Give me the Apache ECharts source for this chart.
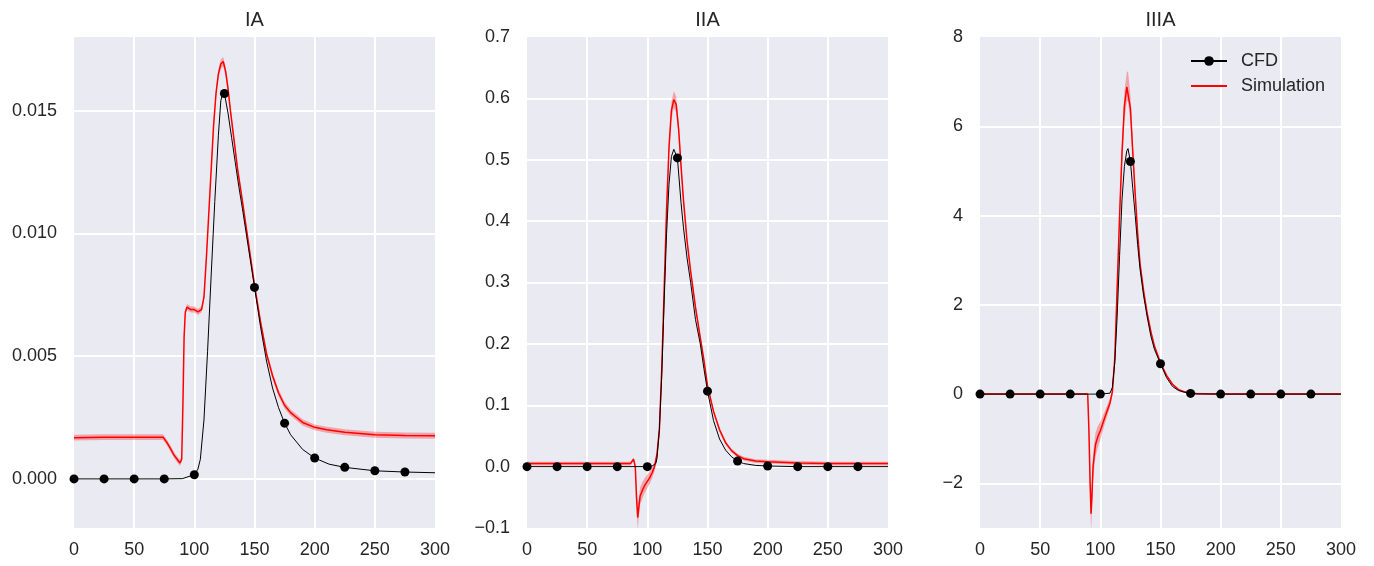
<!DOCTYPE html>
<html>
<head>
<meta charset="utf-8">
<script src="https://cdn.jsdelivr.net/npm/echarts@6/dist/echarts.min.js"></script>
<style>
html,body{margin:0;padding:0;background:#fff;}
#chart{width:1374px;height:566px;}
</style>
</head>
<body>
<div id="chart"></div>
<script>
// ---------- DATA ----------
const panelTitles = ['IA', 'IIA', 'IIIA'];
const xTickLabels = [0, 50, 100, 150, 200, 250, 300];
const cfdMarkerX = [0, 25, 50, 75, 100, 125, 150, 175, 200, 225, 250, 275];

// Panel IA
const cfdX_IA = [0,25,50,75,90,100,103,105,108,111,114,117,120,122,124,125,128,131,134,137,140,145,150,155,160,165,170,175,180,185,190,200,212,225,250,275,300];
const cfdY_IA = [0,0,0,0,0.00001,0.00017,0.0004,0.0008,0.0024,0.0052,0.0083,0.0113,0.0140,0.0154,0.0158,0.0157,0.0149,0.0139,0.0129,0.0119,0.0110,0.0094,0.0078,0.0062,0.0048,0.0037,0.0029,0.00227,0.0018,0.0015,0.0012,0.00085,0.0006,0.00047,0.00033,0.00028,0.00025];
const simX_IA = [0,25,50,74,77,80,83,86,88,89.5,90.5,91.5,92.5,94,97,100,103,106,108,110,112,114,116,118,120,122,124,126,128,130,133,136,140,145,150,155,160,165,170,175,180,185,190,200,210,225,250,275,300];
const simY_IA = [0.00168,0.0017,0.0017,0.0017,0.0015,0.00125,0.00098,0.00078,0.00065,0.0008,0.0030,0.0058,0.0068,0.0070,0.0069,0.0069,0.0068,0.0069,0.0074,0.0090,0.0108,0.0126,0.0144,0.0157,0.0165,0.0169,0.0170,0.0166,0.0159,0.0150,0.0138,0.0126,0.0113,0.0096,0.0079,0.0064,0.0051,0.0042,0.0035,0.0030,0.0027,0.0025,0.0023,0.0021,0.0020,0.0019,0.0018,0.00177,0.00176];
const simBand_IA = [0.00012,0.00012,0.00012,0.00012,0.00012,0.00012,0.00012,0.00012,0.00012,0.00012,0.00012,0.00012,0.00012,0.00012,0.00012,0.00012,0.00012,0.00012,0.00012,0.00013,0.00014,0.00015,0.00016,0.00017,0.00018,0.00019,0.00019,0.00018,0.00017,0.00016,0.00015,0.00014,0.00014,0.00014,0.00014,0.00014,0.00014,0.00014,0.00014,0.00014,0.00013,0.00013,0.00013,0.00012,0.00012,0.00012,0.00012,0.00012,0.00012];

// Panel IIA
const cfdX_IIA = [0,25,50,75,100,104,107,108,110,112,114,116,118,120,122,123,125,128,130,133,136,140,144,147,150,155,160,165,170,175,180,190,200,225,250,275,300];
const cfdY_IIA = [0,0,0,0,0,0.001,0.005,0.013,0.06,0.15,0.27,0.38,0.46,0.505,0.517,0.515,0.503,0.43,0.39,0.34,0.30,0.24,0.20,0.16,0.123,0.075,0.045,0.027,0.016,0.009,0.005,0.002,0.001,0,0,0,0];
const simX_IIA = [0,25,50,75,86,88.5,90,91,92,93,94,96,98,100,102,104,106,108,110,112,114,116,118,120,122,124,126,128,130,133,136,140,144,147,150,155,160,165,170,175,180,190,200,225,250,300];
const simY_IIA = [0.005,0.005,0.005,0.005,0.005,0.012,0.0,-0.05,-0.083,-0.065,-0.048,-0.038,-0.030,-0.024,-0.018,-0.010,0.0,0.02,0.06,0.16,0.29,0.42,0.52,0.58,0.598,0.59,0.55,0.49,0.435,0.368,0.318,0.26,0.21,0.174,0.132,0.09,0.06,0.039,0.026,0.018,0.013,0.009,0.008,0.006,0.005,0.005];
const simBand_IIA = [0.003,0.003,0.003,0.003,0.003,0.003,0.005,0.012,0.02,0.016,0.014,0.013,0.012,0.011,0.01,0.009,0.008,0.007,0.007,0.008,0.009,0.01,0.012,0.014,0.014,0.013,0.011,0.009,0.007,0.006,0.005,0.005,0.005,0.004,0.004,0.004,0.004,0.003,0.003,0.003,0.003,0.003,0.003,0.003,0.003,0.003];

// Panel IIIA
const cfdX_IIIA = [0,25,50,75,100,108,110,112,114,116,118,120,122,123,125,127,129,131,133,136,139,142,145,150,155,160,165,170,175,180,200,225,250,275,300];
const cfdY_IIIA = [0,0,0,0,0,0.02,0.15,0.7,1.75,3.1,4.35,5.1,5.45,5.5,5.21,4.6,4.0,3.35,2.8,2.2,1.72,1.3,1.0,0.68,0.37,0.17,0.08,0.04,0.015,0.005,0,0,0,0,0];
const simX_IIIA = [0,25,50,75,89.5,90.5,91.5,92.3,93,94,96,98,100,102,104,106,108,110,112,114,116,118,120,122,123,125,127,129,131,133,136,139,142,145,150,155,160,165,170,175,180,200,250,300];
const simY_IIIA = [0,0,0,0,0,-0.8,-2.0,-2.68,-2.3,-1.6,-1.13,-0.95,-0.82,-0.66,-0.5,-0.35,-0.2,0.05,0.8,2.4,4.0,5.4,6.45,6.88,6.9,6.4,5.4,4.47,3.6,2.92,2.3,1.8,1.4,1.07,0.7,0.42,0.22,0.1,0.05,0.03,0.01,0,0,0];
const simBand_IIIA = [0.02,0.02,0.02,0.02,0.02,0.15,0.3,0.4,0.35,0.3,0.27,0.24,0.2,0.17,0.14,0.12,0.1,0.08,0.12,0.18,0.24,0.3,0.33,0.33,0.33,0.3,0.22,0.16,0.13,0.1,0.08,0.06,0.05,0.04,0.03,0.02,0.02,0.02,0.02,0.02,0.02,0.02,0.02,0.02];

// Y-axis settings per panel
const yMin = [-0.002, -0.1, -3];
const yMax = [0.018, 0.7, 8];
const yTickLines = [[0, 0.005, 0.010, 0.015], [0, 0.1, 0.2, 0.3, 0.4, 0.5, 0.6], [-2, 0, 2, 4, 6]];
const yTickLabels = [[0, 0.005, 0.010, 0.015], [-0.1, 0, 0.1, 0.2, 0.3, 0.4, 0.5, 0.6, 0.7], [-2, 0, 2, 4, 6, 8]];
const yDecimals = [3, 1, 0];

// ---------- CHART ----------
const cfdX = [cfdX_IA, cfdX_IIA, cfdX_IIIA];
const cfdY = [cfdY_IA, cfdY_IIA, cfdY_IIIA];
const simX = [simX_IA, simX_IIA, simX_IIIA];
const simY = [simY_IA, simY_IIA, simY_IIIA];
const simBand = [simBand_IA, simBand_IIA, simBand_IIIA];

const FONT = 'Liberation Sans, Arial, Helvetica, sans-serif';
const TXT = '#262626';
const gridLeft = [74, 527, 980];
const gridW = 361;

const zip = (a, b) => a.map((v, i) => [v, b[i]]);

const grids = [], xAxes = [], yAxes = [], titles = [], series = [];
for (let p = 0; p < 3; p++) {
  grids.push({left: gridLeft[p], top: 37, width: gridW, height: 491, show: true,
    backgroundColor: '#EAEAF2', borderWidth: 0, containLabel: false});
  titles.push({text: panelTitles[p], left: gridLeft[p] + gridW / 2, top: 10, textAlign: 'center', padding: 0,
    textStyle: {fontFamily: FONT, fontSize: 20, fontWeight: 'normal', color: TXT}});
  xAxes.push({type: 'value', gridIndex: p, min: 0, max: 300,
    axisLine: {show: false},
    axisTick: {show: false, customValues: xTickLabels.slice(1, -1)},
    axisLabel: {customValues: xTickLabels, fontFamily: FONT, fontSize: 18, color: TXT, margin: 13},
    splitLine: {show: true, lineStyle: {color: '#ffffff', width: 2}}});
  const dec = yDecimals[p];
  yAxes.push({type: 'value', gridIndex: p, min: yMin[p], max: yMax[p],
    axisLine: {show: false},
    axisTick: {show: false, customValues: yTickLines[p]},
    axisLabel: {customValues: yTickLabels[p], fontFamily: FONT, fontSize: 18, color: TXT, margin: 17,
      formatter: v => Number(v).toFixed(dec).replace('-', '\u2212')},
    splitLine: {show: true, lineStyle: {color: '#ffffff', width: 2}}});

  const bx = simX[p], by = simY[p], bh = simBand[p];
  const bandPts = bx.map((x, i) => [x, by[i] - bh[i], by[i] + bh[i]]);
  series.push({
    type: 'custom', name: 'band' + p, xAxisIndex: p, yAxisIndex: p, silent: true, clip: true, z: 2,
    data: bandPts, encode: {x: 0, y: [1, 2]},
    renderItem: function (params, api) {
      if (params.dataIndex !== 0) return null;
      const up = bandPts.map(q => api.coord([q[0], q[2]]));
      const lo = bandPts.map(q => api.coord([q[0], q[1]])).reverse();
      return {type: 'polygon', shape: {points: up.concat(lo)}, style: {fill: 'rgba(255,0,0,0.3)'}};
    }
  });
  series.push({
    type: 'line', name: 'Simulation', xAxisIndex: p, yAxisIndex: p, data: zip(simX[p], simY[p]),
    symbol: 'none', clip: true, z: 3, animation: false,
    lineStyle: {color: '#ff0000', width: 1.5}, itemStyle: {color: '#ff0000'}
  });
  series.push({
    type: 'line', name: 'CFD', xAxisIndex: p, yAxisIndex: p, data: zip(cfdX[p], cfdY[p]),
    symbol: 'circle', showSymbol: true, showAllSymbol: true,
    symbolSize: v => cfdMarkerX.includes(v[0]) ? 9 : 0,
    clip: true, z: 4, animation: false,
    lineStyle: {color: '#000000', width: 1}, itemStyle: {color: '#000000'}
  });
}

const chart = echarts.init(document.getElementById('chart'), null, {renderer: 'canvas'});
chart.setOption({
  animation: false,
  backgroundColor: '#ffffff',
  title: titles,
  grid: grids,
  xAxis: xAxes,
  yAxis: yAxes,
  legend: {
    data: [{name: 'CFD'}, {name: 'Simulation', itemStyle: {opacity: 0}}],
    orient: 'vertical', left: 1190, top: 52, padding: 0, itemGap: 7,
    itemWidth: 36, itemHeight: 12, selectedMode: false,
    textStyle: {fontFamily: FONT, fontSize: 18, color: TXT, padding: [0, 0, 0, 9]}
  },
  series: series
});
</script>
</body>
</html>
